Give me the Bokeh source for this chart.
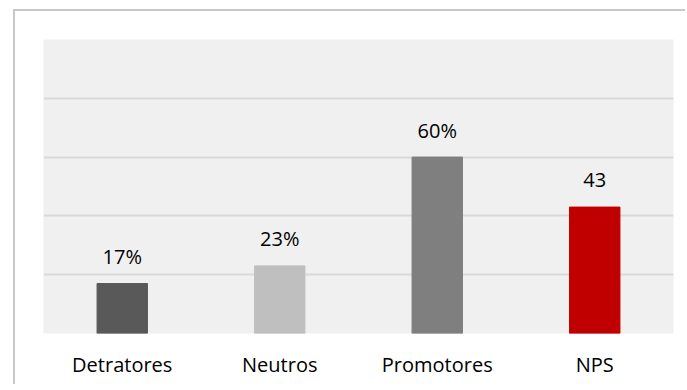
from bokeh.plotting import figure
from bokeh.models import ColumnDataSource, Range1d, FixedTicker
from bokeh.core.properties import value
from bokeh.embed import file_html
from bokeh.resources import INLINE

categories = ["Detratores", "Neutros", "Promotores", "NPS"]
values = [17, 23, 60, 43]
labels = ["17%", "23%", "60%", "43"]
colors = ["#595959", "#BFBFBF", "#7F7F7F", "#C00000"]
y_ticks = [0, 20, 40, 60, 80, 100]

src = ColumnDataSource(dict(cat=categories, val=values, lab=labels, col=colors))

p = figure(x_range=categories, y_range=Range1d(0, 100), width=672, height=375,
           output_backend="svg", toolbar_location=None,
           min_border_left=28, min_border_right=14, min_border_top=28, min_border_bottom=53)
p.x_range.range_padding = 0
p.background_fill_color = "#F0F0F0"
p.border_fill_color = "white"
p.outline_line_color = None
p.margin = (9, 0, 0, 13)
p.styles = {"border-top": "2px solid #C8C8C8", "border-left": "2px solid #C8C8C8"}

p.vbar(x="cat", top="val", width=0.32, color="col", source=src)
p.text(x="cat", y="val", text="lab", source=src, text_align="center",
       text_baseline="alphabetic", y_offset=-27, text_font=value("Open Sans"),
       text_font_size="20px", text_color="#000000")

p.yaxis.visible = False
p.xgrid.visible = False
p.ygrid.ticker = FixedTicker(ticks=y_ticks)
p.ygrid.grid_line_color = "#D9D9D9"
p.ygrid.grid_line_width = 2
p.xaxis.axis_line_color = None
p.xaxis.major_tick_line_color = None
p.xaxis.minor_tick_line_color = None
p.xaxis.major_label_standoff = 11
p.xaxis.major_label_text_font = "Open Sans"
p.xaxis.major_label_text_font_size = "20px"
p.xaxis.major_label_text_color = "#000000"

open("out.html", "w").write(file_html(p, INLINE))
